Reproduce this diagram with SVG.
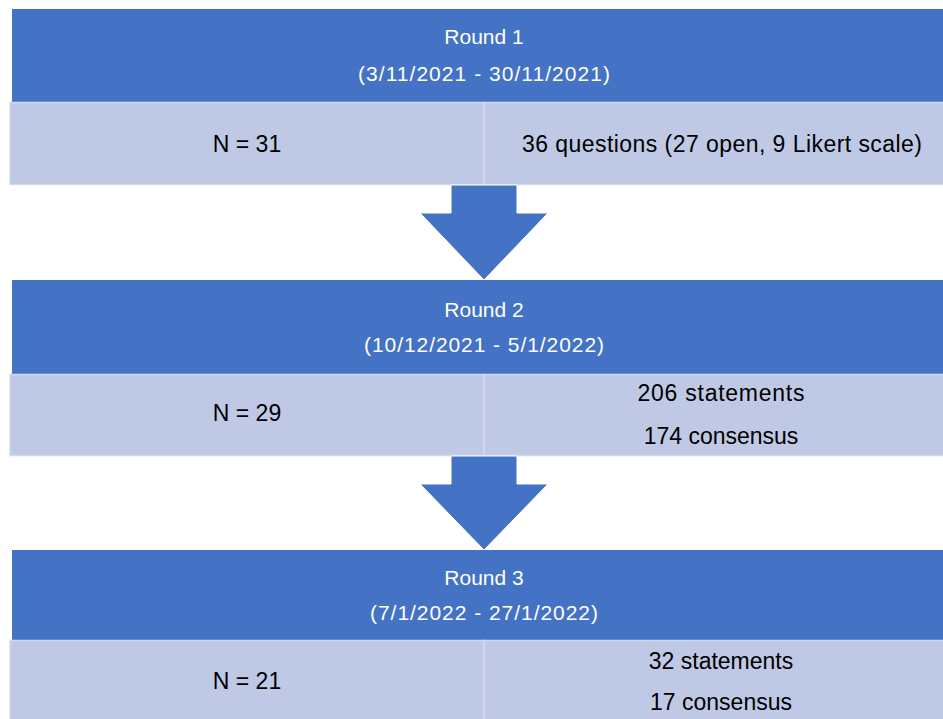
<svg xmlns="http://www.w3.org/2000/svg" width="943" height="719" viewBox="0 0 943 719">
<style>
.hdr{fill:#4472C4;}
.cell{fill:#BFC9E5;stroke:#D3DAEE;stroke-width:1.5;}
.ht{font-family:"Liberation Sans",Arial,sans-serif;font-size:21px;fill:#FFFFFF;text-anchor:middle;}
.bt{font-family:"Liberation Sans",Arial,sans-serif;font-size:23px;fill:#000000;text-anchor:middle;}
.arrow{fill:#4472C4;stroke:#FFFFFF;stroke-width:1;}
</style>
<rect width="943" height="719" fill="#FFFFFF"/>
<g id="round1">
  <rect class="hdr" x="12" y="9" width="948" height="93"/>
  <text class="ht" x="484" y="44">Round 1</text>
  <text class="ht" x="484" y="81" textLength="252" lengthAdjust="spacing">(3/11/2021 - 30/11/2021)</text>
</g>
<g id="round1-n">
  <rect class="cell" x="10" y="102.5" width="474" height="82"/>
  <text class="bt" x="247" y="152">N = 31</text>
</g>
<g id="round1-q">
  <rect class="cell" x="484" y="102.5" width="476" height="82"/>
  <text class="bt" x="722" y="152" textLength="400" lengthAdjust="spacing">36 questions (27 open, 9 Likert scale)</text>
</g>
<g id="round2">
  <rect class="hdr" x="12" y="280" width="948" height="94"/>
  <text class="ht" x="484" y="317">Round 2</text>
  <text class="ht" x="484" y="352" textLength="240" lengthAdjust="spacing">(10/12/2021 - 5/1/2022)</text>
</g>
<g id="round2-n">
  <rect class="cell" x="10" y="374.5" width="474" height="81"/>
  <text class="bt" x="247" y="421">N = 29</text>
</g>
<g id="round2-s">
  <rect class="cell" x="484" y="374.5" width="476" height="81"/>
  <text class="bt" x="721" y="401" textLength="167" lengthAdjust="spacing">206 statements</text>
  <text class="bt" x="721" y="444">174 consensus</text>
</g>
<g id="round3">
  <rect class="hdr" x="12" y="550" width="948" height="90"/>
  <text class="ht" x="484" y="585">Round 3</text>
  <text class="ht" x="484" y="620" textLength="228" lengthAdjust="spacing">(7/1/2022 - 27/1/2022)</text>
</g>
<g id="round3-n">
  <rect class="cell" x="10" y="640.5" width="474" height="90"/>
  <text class="bt" x="247" y="689">N = 21</text>
</g>
<g id="round3-s">
  <rect class="cell" x="484" y="640.5" width="476" height="90"/>
  <text class="bt" x="721" y="669">32 statements</text>
  <text class="bt" x="721" y="710">17 consensus</text>
</g>
<g id="connectors">
  <polygon class="arrow" points="451,185 517,185 517,213 548,213 484,280 420,213 451,213"/>
  <polygon class="arrow" points="451,456 517,456 517,484 548,484 484,550 420,484 451,484"/>
</g>
</svg>
